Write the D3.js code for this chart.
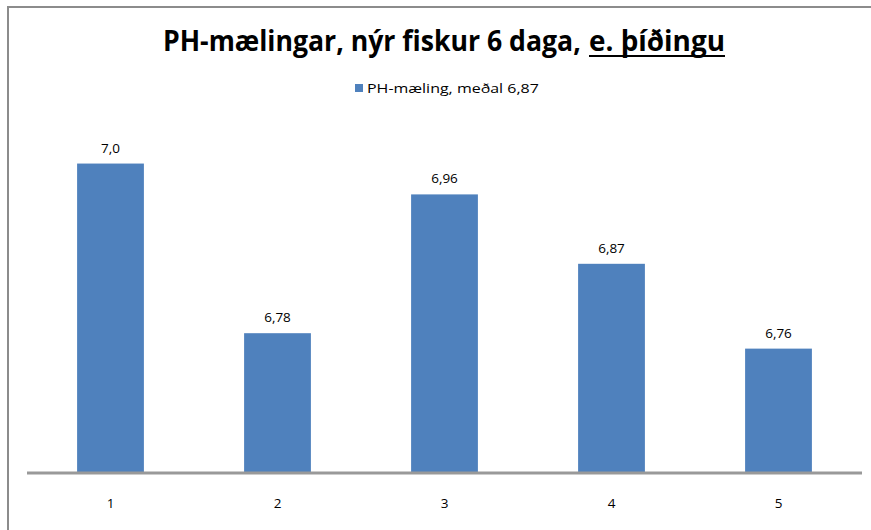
<!DOCTYPE html>
<html>
<head>
<meta charset="utf-8">
<script src="https://cdn.jsdelivr.net/npm/d3@7"></script>
<style>
  body { margin: 0; background: #fff; }
  svg { display: block; font-family: "Open Sans", sans-serif; }
</style>
</head>
<body>
<div id="chart"></div>
<script>
// data
const categories = ['1', '2', '3', '4', '5'];
const phValues = [7.0, 6.78, 6.96, 6.87, 6.76];
const valueLabels = ['7,0', '6,78', '6,96', '6,87', '6,76'];
const seriesName = 'PH-mæling, meðal 6,87';
const titleMain = 'PH-mælingar, nýr fiskur 6 daga,';
const titleUnderlined = 'e. þíðingu';

const width = 871, height = 530;
const barColor = '#4f81bd';

const svg = d3.select('#chart').append('svg')
  .attr('width', width)
  .attr('height', height);

svg.append('rect')
  .attr('width', width).attr('height', height)
  .attr('fill', '#fff');

// chart frame (cropped on right / bottom)
svg.append('path')
  .attr('d', `M8,${height + 5} L8,7 L${width + 5},7`)
  .attr('fill', 'none')
  .attr('stroke', '#8c8c8c')
  .attr('stroke-width', 2);

const x = d3.scaleBand()
  .domain(categories)
  .range([27, 862])
  .paddingInner(0.6)
  .paddingOuter(0.3);

const y = d3.scaleLinear()
  .domain([6.6, 7.05])
  .range([472, 125]);

// bars
svg.selectAll('rect.bar')
  .data(phValues)
  .join('rect')
  .attr('class', 'bar')
  .attr('x', (d, i) => x(categories[i]))
  .attr('y', d => y(d))
  .attr('width', x.bandwidth())
  .attr('height', d => y(6.6) - y(d))
  .attr('fill', barColor);

// value labels
svg.selectAll('text.val')
  .data(phValues)
  .join('text')
  .attr('class', 'val')
  .attr('x', (d, i) => x(categories[i]) + x.bandwidth() / 2)
  .attr('y', d => y(d) - 11)
  .attr('text-anchor', 'middle')
  .attr('font-size', 13.5)
  .attr('fill', '#000')
  .text((d, i) => valueLabels[i]);

// x axis
const xAxis = svg.append('g')
  .attr('transform', `translate(0,${y(6.6) + 1})`)
  .call(d3.axisBottom(x).tickSize(0).tickPadding(25));
xAxis.select('.domain')
  .attr('d', `M${x.range()[0]},0H${x.range()[1]}`)
  .attr('stroke', '#999')
  .attr('stroke-width', 3);
xAxis.selectAll('text')
  .attr('font-size', 13.5)
  .attr('font-family', '"Open Sans", sans-serif')
  .attr('fill', '#000');

// squeeze a text horizontally to a target width (Calibri-like look)
function squeezed(parent, str, x0, y0, size, targetW, weight) {
  const t = parent.append('text')
    .attr('font-size', size)
    .attr('font-weight', weight)
    .attr('fill', '#000')
    .text(str);
  const w = t.node().getComputedTextLength();
  t.attr('transform', `translate(${x0},${y0}) scale(${targetW / w},1)`);
  return t;
}

// title, two parts so the second can be underlined
squeezed(svg, titleMain, 163, 51, 29, 418, 'bold');
squeezed(svg, titleUnderlined, 589, 51, 29, 136, 'bold');

svg.append('line')
  .attr('x1', 589).attr('x2', 725)
  .attr('y1', 56).attr('y2', 56)
  .attr('stroke', '#000')
  .attr('stroke-width', 2);

// legend
const legend = svg.append('g').attr('transform', 'translate(355,84)');
legend.append('rect')
  .attr('width', 8).attr('height', 8)
  .attr('fill', barColor);
squeezed(legend, seriesName, 12, 9, 13.5, 172, 'normal');
</script>
</body>
</html>
